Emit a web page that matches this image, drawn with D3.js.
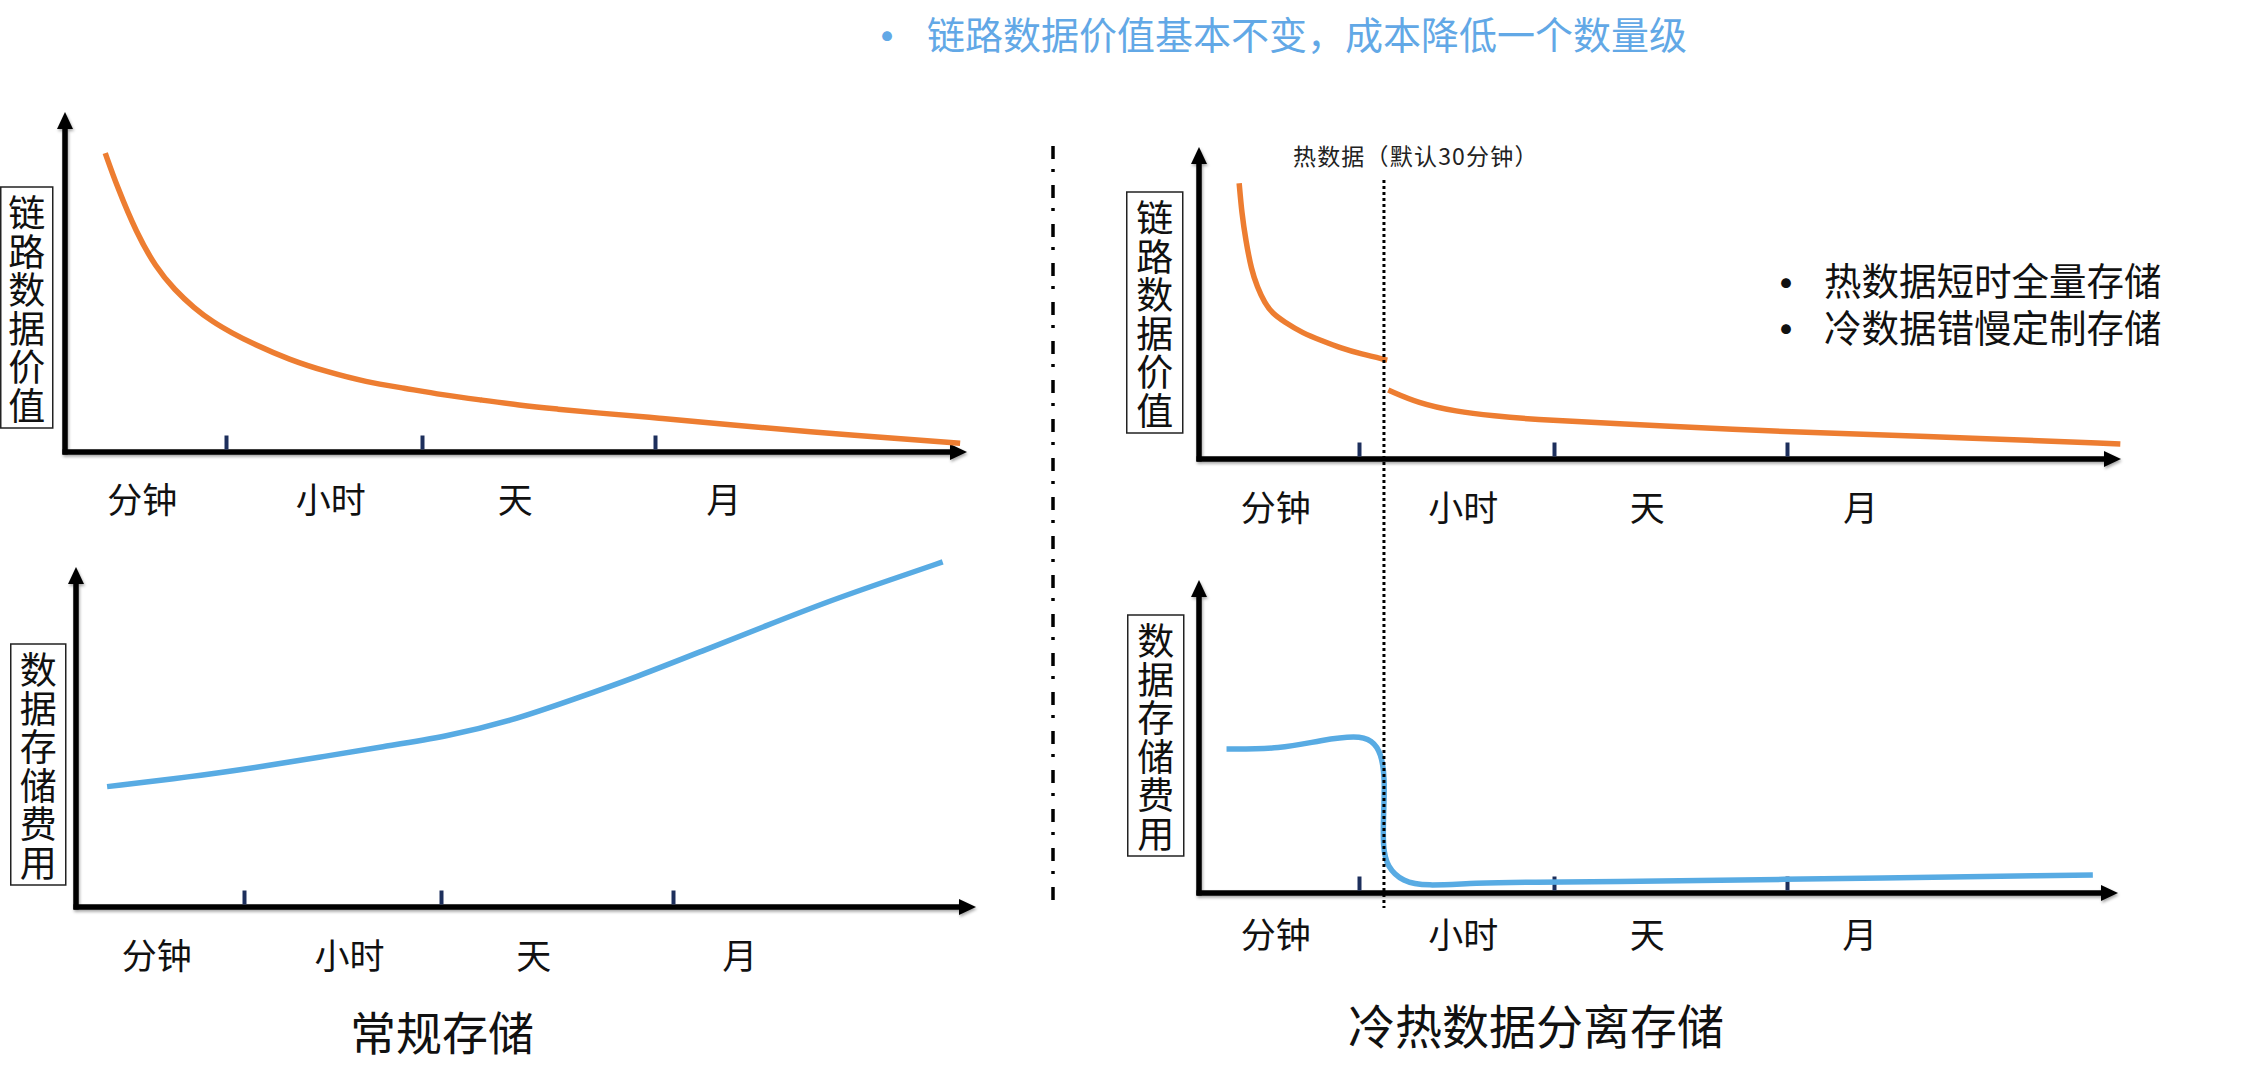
<!DOCTYPE html>
<html><head><meta charset="utf-8">
<script src="https://cdn.jsdelivr.net/npm/d3@7"></script>
<style>
html,body{margin:0;padding:0;background:#fff;}
svg{display:block;}
text{font-family:"Noto Sans CJK SC","Noto Sans",sans-serif;}
</style>
</head><body>
<svg id="c" width="2254" height="1090"></svg>
<script>
// ---------------- data ----------------
const timeCategories = ["分钟", "小时", "天", "月"];
const categoryLabelPos = [0.48, 1.535, 2.4, 3.22];   // position of each label on the time axis (unit = time bucket)
const boundaryTicks = [1, 2, 3];                      // minute|hour, hour|day, day|month boundaries
const hotBoundary = 1.128;                            // 30 minutes

const headline = "链路数据价值基本不变，成本降低一个数量级";
const bulletLines = ["热数据短时全量存储", "冷数据错慢定制存储"];
const hotNote = "热数据（默认30分钟）";
const valueTitle = "链路数据价值";
const costTitle = "数据存储费用";
const leftTitle = "常规存储";
const rightTitle = "冷热数据分离存储";

// regular storage: trace value
const regularValueX = [0.25, 0.325, 0.444, 0.563, 0.682, 0.801, 0.919, 1.031, 1.128, 1.324, 1.52, 1.714, 1.908, 2.089, 2.253, 2.416, 2.582, 2.747, 3.016, 3.205, 3.663, 3.978];
const regularValue  = [87.9, 77.9, 64.4, 54.4, 47.6, 42.4, 38.2, 35.0, 32.1, 27.1, 23.5, 20.6, 18.8, 16.8, 15.3, 13.8, 12.6, 11.5, 10.0, 8.2, 4.7, 2.6];

// regular storage: cost
const regularCostX = [0.185, 0.685, 1.056, 1.381, 1.706, 2.022, 2.297, 2.573, 2.849, 3.094, 3.304, 3.515, 3.726, 3.89];
const regularCost  = [35.4, 38.3, 41.0, 44.0, 47.2, 50.1, 54.6, 61.1, 67.8, 75.2, 82.6, 90.0, 96.5, 101.5];

// tiered storage: trace value (hot part, cold part)
const hotValueX = [0.251, 0.2675, 0.292, 0.3275, 0.364, 0.411, 0.459, 0.531, 0.65, 0.769, 0.889, 1.008, 1.145];
const hotValue  = [88.4, 78.8, 70.2, 60.6, 55.2, 49.9, 46.7, 44.0, 40.3, 37.9, 35.5, 33.7, 31.7];
const coldValueX = [1.15, 1.303, 1.497, 1.694, 1.89, 2.236, 2.841, 3.0, 3.585, 3.998];
const coldValue  = [22.1, 17.9, 15.2, 13.8, 12.7, 11.4, 9.3, 8.75, 6.6, 4.8];

// tiered storage: cost
const tieredCostX = [0.172, 0.506, 0.769, 0.986, 1.067, 1.115, 1.133, 1.126, 1.122, 1.144, 1.224, 1.341, 1.595, 1.891, 2.236, 2.841, 3.924];
const tieredCost  = [46.0, 46.0, 48.9, 50.3, 48.9, 44.7, 36.1, 25.6, 14.7, 8.3, 3.6, 2.2, 3.2, 3.5, 3.6, 4.2, 5.75];

// ---------------- layout ----------------
const ORANGE = "#ed7d31", BLUE = "#58abe3", NAVY = "#1d2f5c", HEAD = "#62a8e6";
const svg = d3.select("#c");
svg.append("rect").attr("width", 2254).attr("height", 1090).attr("fill", "#fff");

const defs = svg.append("defs");
const f = defs.append("filter").attr("id", "sh").attr("x", "-5%").attr("y", "-50%").attr("width", "110%").attr("height", "200%");
f.append("feDropShadow").attr("dx", 1).attr("dy", 2).attr("stdDeviation", 1.6).attr("flood-color", "#000").attr("flood-opacity", 0.35);

const panelDefs = {
  tl: {xr: [65, 226, 422, 655, 967], y0: 452, yTop: 112, labelDy: 45, box: {x: 0, y: 187, w: 52}, title: valueTitle},
  bl: {xr: [76, 244, 441, 673, 976], y0: 907, yTop: 567, labelDy: 46, box: {x: 10, y: 644, w: 55}, title: costTitle},
  tr: {xr: [1199, 1359, 1554, 1787, 2121], y0: 459, yTop: 147, labelDy: 46, box: {x: 1126, y: 192, w: 56}, title: valueTitle},
  br: {xr: [1199, 1359, 1554, 1787, 2118], y0: 893, yTop: 580, labelDy: 39, box: {x: 1127, y: 615, w: 56}, title: costTitle}
};

function buildPanel(p) {
  const x = d3.scaleLinear().domain([0, 1, 2, 3, 4]).range(p.xr);
  const y = d3.scaleLinear().domain([0, 100]).range([p.y0, p.yTop]);
  const g = svg.append("g");
  const x0 = x(0), xEnd = x(4), yB = y(0), yT = y(100);

  // axes with arrows
  const ax = g.append("g").attr("filter", "url(#sh)");
  ax.append("line").attr("x1", x0 - 2.5).attr("x2", xEnd - 12).attr("y1", yB).attr("y2", yB)
    .attr("stroke", "#000").attr("stroke-width", 5.5);
  ax.append("path").attr("d", `M${xEnd},${yB} L${xEnd - 17},${yB - 8} L${xEnd - 17},${yB + 8} Z`).attr("fill", "#000");
  ax.append("line").attr("x1", x0).attr("x2", x0).attr("y1", yB + 2.5).attr("y2", yT + 12)
    .attr("stroke", "#000").attr("stroke-width", 5.5);
  ax.append("path").attr("d", `M${x0},${yT} L${x0 - 8},${yT + 17} L${x0 + 8},${yT + 17} Z`).attr("fill", "#000");

  // boundary ticks
  const tk = g.append("g").attr("transform", `translate(0,${yB - 2.5})`)
    .call(d3.axisBottom(x).tickValues(boundaryTicks).tickSize(-14).tickFormat(""));
  tk.select(".domain").remove();
  tk.selectAll(".tick line").attr("stroke", NAVY).attr("stroke-width", 4);

  // category labels
  g.selectAll("text.cat").data(timeCategories).enter().append("text")
    .attr("class", "cat")
    .attr("x", (d, i) => x(categoryLabelPos[i]))
    .attr("y", yB + p.labelDy)
    .attr("text-anchor", "middle").attr("dominant-baseline", "central")
    .attr("font-size", 35).attr("fill", "#111").text(d => d);

  // vertical y title in box: one character per line
  const chars = Array.from(p.title);
  const pitch = 38.5, pad = 5;
  const bh = chars.length * pitch + pad * 2;
  const cx = p.box.x + 0.75 + p.box.w / 2;
  g.append("rect").attr("x", p.box.x + 0.75).attr("y", p.box.y).attr("width", p.box.w).attr("height", bh)
    .attr("fill", "#fff").attr("stroke", "#222").attr("stroke-width", 1.5);
  g.selectAll("text.yt").data(chars).enter().append("text")
    .attr("class", "yt")
    .attr("x", cx)
    .attr("y", (d, i) => p.box.y + pad + pitch * (i + 0.5))
    .attr("text-anchor", "middle").attr("dominant-baseline", "central")
    .attr("font-size", 37).attr("fill", "#111").text(d => d);

  return {g, x, y};
}

const TL = buildPanel(panelDefs.tl);
const BL = buildPanel(panelDefs.bl);
const TR = buildPanel(panelDefs.tr);
const BR = buildPanel(panelDefs.br);

function drawSeries(P, xs, ys, color, curve) {
  const pts = xs.map((v, i) => [v, ys[i]]);
  const line = d3.line().x(d => P.x(d[0])).y(d => P.y(d[1])).curve(curve);
  P.g.append("path").datum(pts).attr("d", line)
    .attr("fill", "none").attr("stroke", color).attr("stroke-width", 5.5).attr("stroke-linecap", "butt");
}

drawSeries(TL, regularValueX, regularValue, ORANGE, d3.curveBasis);
drawSeries(BL, regularCostX, regularCost, BLUE, d3.curveBasis);
drawSeries(TR, hotValueX, hotValue, ORANGE, d3.curveBasis);
drawSeries(TR, coldValueX, coldValue, ORANGE, d3.curveBasis);
drawSeries(BR, tieredCostX, tieredCost, BLUE, d3.curveBasis);

// hot-data boundary (dotted)
svg.append("line")
  .attr("x1", TR.x(hotBoundary)).attr("x2", TR.x(hotBoundary))
  .attr("y1", 180).attr("y2", 908)
  .attr("stroke", "#000").attr("stroke-width", 3).attr("stroke-dasharray", "3,3");

svg.append("text").attr("x", TR.x(hotBoundary) - 91).attr("y", 155)
  .attr("dominant-baseline", "central").attr("font-size", 23).attr("letter-spacing", 1.2)
  .attr("fill", "#222").text(hotNote);

// centre divider (dash-dot)
svg.append("line").attr("x1", 1053).attr("x2", 1053).attr("y1", 146).attr("y2", 907)
  .attr("stroke", "#000").attr("stroke-width", 3.5).attr("stroke-dasharray", "13,10,3,13");

// headline
svg.append("text").attr("x", 887).attr("y", 33).attr("text-anchor", "middle").attr("dominant-baseline", "central")
  .attr("font-family", "DejaVu Sans").attr("font-size", 46).attr("fill", HEAD).text("•");
svg.append("text").attr("x", 927).attr("y", 32).attr("dominant-baseline", "central")
  .attr("font-size", 38).attr("fill", HEAD).text(headline);

// bullets
bulletLines.forEach((t, i) => {
  const yy = 278.5 + i * 46.5;
  svg.append("text").attr("x", 1786).attr("y", yy + 1).attr("text-anchor", "middle").attr("dominant-baseline", "central")
    .attr("font-family", "DejaVu Sans").attr("font-size", 46).attr("fill", "#111").text("•");
  svg.append("text").attr("x", 1824).attr("y", yy).attr("dominant-baseline", "central")
    .attr("font-size", 37.5).attr("fill", "#111").text(t);
});

// panel titles
svg.append("text").attr("x", 442).attr("y", 1030).attr("text-anchor", "middle").attr("dominant-baseline", "central")
  .attr("font-size", 46).attr("fill", "#111").text(leftTitle);
svg.append("text").attr("x", 1536).attr("y", 1023).attr("text-anchor", "middle").attr("dominant-baseline", "central")
  .attr("font-size", 47).attr("fill", "#111").text(rightTitle);
</script>
</body></html>
